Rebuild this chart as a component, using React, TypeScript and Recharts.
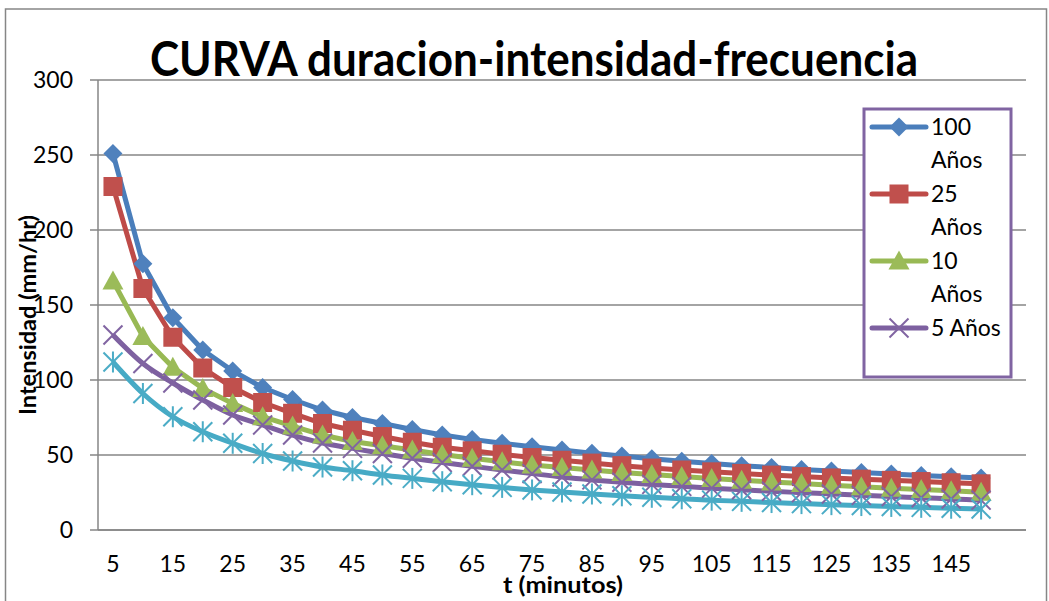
import React from 'react';
import { LineChart, Line, XAxis, YAxis, CartesianGrid } from 'recharts';

const minutes = [5, 10, 15, 20, 25, 30, 35, 40, 45, 50, 55, 60, 65, 70, 75, 80, 85, 90, 95, 100, 105, 110, 115, 120, 125, 130, 135, 140, 145, 150];
const y100 = [251, 177.5, 141.5, 120, 106, 95, 87, 80, 75, 71, 67, 63.3, 60.4, 57.8, 55.5, 53.3, 51.2, 49.3, 47.5, 45.8, 44.3, 42.9, 41.6, 40.4, 39.3, 38.3, 37.3, 36.4, 35.5, 34.7];
const y25 = [229, 161, 128.5, 108, 95, 85, 77.8, 71, 66.5, 62.3, 58.5, 55.2, 52.8, 50.5, 48.3, 46.5, 44.6, 42.9, 41.3, 40, 38.8, 37.7, 36.6, 35.6, 34.7, 33.9, 33.1, 32.3, 31.5, 30.8];
const y10 = [166, 129, 108.5, 94.4, 84.4, 75.5, 69.3, 63.3, 59, 56.2, 53.3, 50.3, 47.8, 45.5, 43.3, 41.6, 40, 38.4, 37, 35.6, 34.4, 33.2, 32, 31, 29.9, 28.9, 27.9, 27, 26.1, 25.2];
const y5 = [130, 111, 98, 86.7, 76.7, 70, 63.3, 58, 54.4, 51, 47.8, 45, 42.5, 40, 37.6, 35.3, 33.4, 31.8, 30.4, 29.1, 27.9, 26.8, 25.8, 24.9, 24, 23.1, 22.3, 21.5, 20.7, 19.9];
const y2 = [112, 91, 75.5, 65.5, 57.8, 51, 46, 42, 39.5, 36.7, 34.4, 32.2, 30.2, 28.4, 26.7, 25.3, 24, 22.8, 21.8, 20.8, 19.9, 19.1, 18.3, 17.6, 16.9, 16.3, 15.7, 15.1, 14.5, 14];
const yTicks = [0, 50, 100, 150, 200, 250, 300];

const title = 'CURVA duracion-intensidad-frecuencia';
const xLabel = 't (minutos)';
const yLabel = 'Intensidad (mm/hr)';

type Shape = 'diamond' | 'square' | 'triangle' | 'x' | 'star';
const series: { key: string; name: string; color: string; fill: string; shape: Shape; smooth: boolean; legend: string[] }[] = [
  { key: 'a100', name: '100 Años', color: '#4A7EBB', fill: '#4F81BD', shape: 'diamond', smooth: false, legend: ['100', 'Años'] },
  { key: 'a25', name: '25 Años', color: '#BE4B48', fill: '#C0504D', shape: 'square', smooth: false, legend: ['25', 'Años'] },
  { key: 'a10', name: '10 Años', color: '#98B954', fill: '#9BBB59', shape: 'triangle', smooth: false, legend: ['10', 'Años'] },
  { key: 'a5', name: '5 Años', color: '#7D60A0', fill: '#8064A2', shape: 'x', smooth: true, legend: ['5 Años'] },
  { key: 'a2', name: '2 Años', color: '#46AAC5', fill: '#4BACC6', shape: 'star', smooth: true, legend: [] },
];

const data: any[] = minutes.map((t, i) => ({
  t: String(t),
  a100: y100[i],
  a25: y25[i],
  a10: y10[i],
  a5: y5[i],
  a2: y2[i],
}));
data.push({ t: '' });

const FONT = 'Lato, "Open Sans", sans-serif';

function marker(shape: Shape, cx: number, cy: number, color: string, key: string) {
  const r = 9.5;
  switch (shape) {
    case 'diamond':
      return <polygon key={key} points={`${cx},${cy - r} ${cx + r},${cy} ${cx},${cy + r} ${cx - r},${cy}`} fill={color} />;
    case 'square':
      return <rect key={key} x={cx - r} y={cy - r} width={2 * r} height={2 * r} fill={color} />;
    case 'triangle':
      return <polygon key={key} points={`${cx},${cy - r - 1} ${cx + r + 1},${cy + r - 1} ${cx - r - 1},${cy + r - 1}`} fill={color} />;
    case 'x':
      return (
        <g key={key} stroke={color} strokeWidth={2}>
          <line x1={cx - r} y1={cy - r} x2={cx + r} y2={cy + r} />
          <line x1={cx - r} y1={cy + r} x2={cx + r} y2={cy - r} />
        </g>
      );
    case 'star':
      return (
        <g key={key} stroke={color} strokeWidth={2}>
          <line x1={cx - r} y1={cy - r} x2={cx + r} y2={cy + r} />
          <line x1={cx - r} y1={cy + r} x2={cx + r} y2={cy - r} />
          <line x1={cx} y1={cy - r - 1} x2={cx} y2={cy + r + 1} />
        </g>
      );
  }
  return null;
}

const XTick = (props: any) => {
  const { x, y, payload } = props;
  return (
    <text x={x} y={y} dy={34} textAnchor="middle" fontFamily={FONT} fontSize={23} fill="#000">
      {payload.value}
    </text>
  );
};

const YTick = (props: any) => {
  const { x, y, payload } = props;
  return (
    <text x={x} y={y} dy="0.36em" textAnchor="end" fontFamily={FONT} fontSize={23} fill="#000">
      {payload.value}
    </text>
  );
};

export default function App() {
  return (
    <div style={{ position: 'absolute', left: 0, top: 0, width: 1049, height: 601, overflow: 'hidden', background: '#fff' }}>
      <LineChart
        width={1049}
        height={601}
        data={data}
        margin={{ top: 80, right: 23, bottom: 31, left: 0 }}
        style={{ position: 'absolute', left: 0, top: 0 }}
      >
        <CartesianGrid vertical={false} stroke="#868686" strokeWidth={1.5} />
        <XAxis
          dataKey="t"
          scale="band"
          interval={1}
          tickLine={false}
          tickSize={8}
          tickMargin={0}
          height={40}
          axisLine={{ stroke: '#868686', strokeWidth: 1.5 }}
          tick={<XTick />}
        />
        <YAxis
          domain={[0, 300]}
          ticks={yTicks}
          width={98}
          tickSize={8}
          tickMargin={17}
          tickLine={{ stroke: '#868686', strokeWidth: 1.5 }}
          axisLine={{ stroke: '#868686', strokeWidth: 1.5 }}
          tick={<YTick />}
        />
        {series.map((s) => (
          <Line
            key={s.key}
            dataKey={s.key}
            name={s.name}
            type={s.smooth ? 'monotone' : 'linear'}
            stroke={s.color}
            strokeWidth={5}
            isAnimationActive={false}
            activeDot={false}
            dot={(p: any) => {
              if (p.cx == null || p.cy == null || p.value == null || isNaN(p.cy)) return <g key={`${s.key}-${p.index}`} />;
              return marker(s.shape, p.cx, p.cy, s.fill, `${s.key}-${p.index}`);
            }}
          />
        ))}
      </LineChart>
      <svg width={1049} height={601} style={{ position: 'absolute', left: 0, top: 0, pointerEvents: 'none' }}>
        <rect x={5.5} y={9} width={1041} height={620} fill="none" stroke="#868686" strokeWidth={1.5} />
        <text x={534} y={76} textAnchor="middle" fontFamily={FONT} fontWeight="bold" fontSize={47} textLength={768} lengthAdjust="spacingAndGlyphs" fill="#000">
          {title}
        </text>
        <text
          transform="translate(36,315) rotate(-90)"
          x={0}
          y={0}
          textAnchor="middle"
          fontFamily={FONT}
          fontWeight="bold"
          fontSize={23}
          textLength={200}
          lengthAdjust="spacingAndGlyphs"
          fill="#000"
        >
          {yLabel}
        </text>
        <text x={563} y={593} textAnchor="middle" fontFamily={FONT} fontWeight="bold" fontSize={22} textLength={120} lengthAdjust="spacingAndGlyphs" fill="#000">
          {xLabel}
        </text>
        <rect x={864} y={109} width={147} height={268} fill="#fff" stroke="#8064A2" strokeWidth={3} />
        {series
          .filter((s) => s.legend.length > 0)
          .map((s, i) => {
            const cy = 127 + i * 67;
            return (
              <g key={`leg-${s.key}`}>
                <line x1={872} y1={cy} x2={926} y2={cy} stroke={s.color} strokeWidth={5} strokeLinecap="round" />
                {marker(s.shape, 899, cy, s.fill, `lm-${s.key}`)}
                {s.legend.map((ln, j) => (
                  <text key={j} x={931} y={cy + 8 + j * 33} fontFamily={FONT} fontSize={23} fill="#000">
                    {ln}
                  </text>
                ))}
              </g>
            );
          })}
      </svg>
    </div>
  );
}
